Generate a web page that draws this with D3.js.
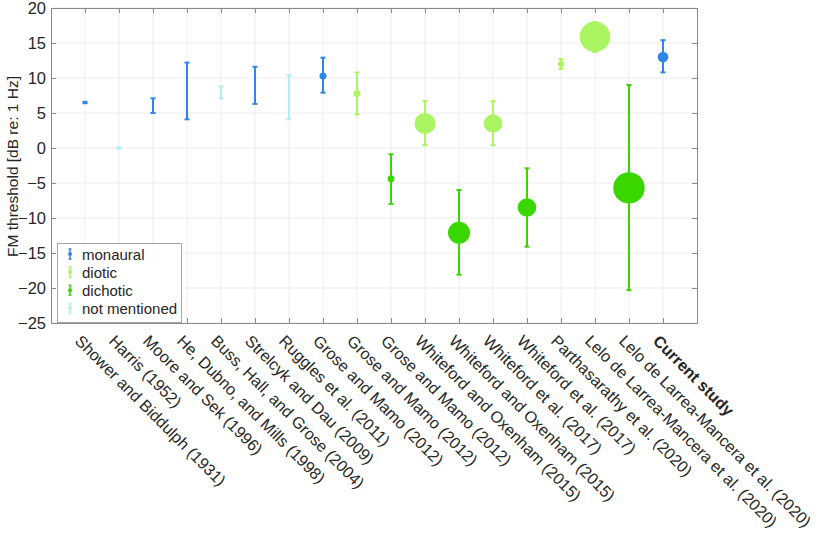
<!DOCTYPE html>
<html><head><meta charset="utf-8">
<script src="https://cdn.jsdelivr.net/npm/d3@7"></script>
<style>body{margin:0;background:#fff;font-family:"Liberation Sans",Arial,Helvetica,sans-serif;}</style>
</head><body><svg id="c" width="820" height="534"></svg>
<script>
const studies = ["Shower and Biddulph (1931)","Harris (1952)","Moore and Sek (1996)","He, Dubno, and Mills (1998)","Buss, Hall, and Grose (2004)","Strelcyk and Dau (2009)","Ruggles et al. (2011)","Grose and Mamo (2012)","Grose and Mamo (2012)","Grose and Mamo (2012)","Whiteford and Oxenham (2015)","Whiteford and Oxenham (2015)","Whiteford et al. (2017)","Whiteford et al. (2017)","Parthasarathy et al. (2020)","Lelo de Larrea-Mancera et al. (2020)","Lelo de Larrea-Mancera et al. (2020)","Current study"];
const conditions = ["monaural","not mentioned","monaural","monaural","not mentioned","monaural","not mentioned","monaural","diotic","dichotic","diotic","dichotic","diotic","dichotic","diotic","diotic","dichotic","monaural"];
const centers = [6.5,0,6.0,8.1,7.9,9.0,7.2,10.3,7.8,-4.4,3.5,-12.1,3.5,-8.5,12.0,15.9,-5.7,13.0];
const lows =    [6.4,-0.1,5.0,4.1,7.1,6.3,4.1,7.9,4.8,-8.0,0.4,-18.1,0.4,-14.1,11.3,13.7,-20.3,10.8];
const highs =   [6.6,0.1,7.1,12.2,8.8,11.6,10.4,12.9,10.8,-0.9,6.7,-6.0,6.7,-2.9,12.7,18.0,9.0,15.4];
const markerSizes = [0,0,0,0,0,0,1,3.5,3.5,3.5,10.5,11,9.3,9.3,3,15.3,15.7,5.3];
const legendLabels = ["monaural","diotic","dichotic","not mentioned"];
const yTicks = [20,15,10,5,0,-5,-10,-15,-20,-25];
const yLabel = "FM threshold [dB re: 1 Hz]";

const colors = {"monaural":"#2b87e8","diotic":"#abf562","dichotic":"#3ad600","not mentioned":"#b2eef0"};

const svg = d3.select("#c");
const L=51, R=697, T=8, B=323;
const x = d3.scaleLinear().domain([0,studies.length+1]).range([L,R]);
const y = d3.scaleLinear().domain([-25,20]).range([B,T]);
const idx = d3.range(1, studies.length+1);

// grid
svg.append("g").selectAll("line").data(idx).join("line")
  .attr("x1",d=>x(d)).attr("x2",d=>x(d)).attr("y1",T).attr("y2",B)
  .attr("stroke","#ededed").attr("stroke-width",1);
svg.append("g").selectAll("line").data(yTicks).join("line")
  .attr("x1",L).attr("x2",R).attr("y1",d=>y(d)).attr("y2",d=>y(d))
  .attr("stroke","#ededed").attr("stroke-width",1);

// axes
const ax = svg.append("g").attr("font-family",'"Liberation Sans",Arial,sans-serif');
const yAxis = d3.axisLeft(y).tickValues(yTicks).tickSize(-5).tickPadding(5);
const yg = ax.append("g").attr("transform",`translate(${L},0)`).call(yAxis);
yg.selectAll("text").attr("font-size",16.5).attr("fill","#262626");
const yAxisR = d3.axisRight(y).tickValues(yTicks).tickSize(-5).tickFormat("");
ax.append("g").attr("transform",`translate(${R},0)`).call(yAxisR);
const xAxis = d3.axisBottom(x).tickValues(idx).tickSize(-5).tickFormat("");
ax.append("g").attr("transform",`translate(0,${B})`).call(xAxis);
const xAxisT = d3.axisTop(x).tickValues(idx).tickSize(-5).tickFormat("");
ax.append("g").attr("transform",`translate(0,${T})`).call(xAxisT);
ax.selectAll(".domain").attr("stroke","#8a8a8a").attr("stroke-width",1);
ax.selectAll(".tick line").attr("stroke","#8a8a8a");

// x labels
svg.append("g").selectAll("text").data(studies).join("text")
  .attr("transform",(d,i)=>`translate(${x(i+1)-11},${B+19}) rotate(45)`)
  .attr("font-size",16.2).attr("fill","#262626")
  .attr("font-weight",d=>d==="Current study"?"bold":"normal")
  .text(d=>d);

// y label
svg.append("text").attr("transform",`translate(18,${(T+B)/2+1}) rotate(-90)`)
  .attr("text-anchor","middle").attr("font-size",15.5).attr("fill","#262626").text(yLabel);

// error bars
const eb = svg.append("g");
idx.forEach((d,k)=>{
  const c = colors[conditions[k]];
  const g = eb.append("g");
  g.append("line").attr("x1",x(d)).attr("x2",x(d)).attr("y1",y(lows[k])).attr("y2",y(highs[k]))
    .attr("stroke",c).attr("stroke-width",2);
  [lows[k],highs[k]].forEach(v=>g.append("line").attr("x1",x(d)-2.5).attr("x2",x(d)+2.5)
    .attr("y1",y(v)).attr("y2",y(v)).attr("stroke",c).attr("stroke-width",2));
  if(markerSizes[k]>0) g.append("circle").attr("cx",x(d)).attr("cy",y(centers[k])).attr("r",markerSizes[k]).attr("fill",c);
});

// legend
const lg = svg.append("g");
lg.append("rect").attr("x",57.5).attr("y",243.5).attr("width",124).attr("height",79)
  .attr("fill","#fff").attr("stroke","#a6a6a6").attr("stroke-width",1);
legendLabels.forEach((lab,i)=>{
  const yy = 254 + i*18.1;
  const c = colors[lab];
  lg.append("line").attr("x1",70).attr("x2",70).attr("y1",yy-5).attr("y2",yy+5).attr("stroke",c).attr("stroke-width",1.5);
  [yy-5,yy+5].forEach(v=>lg.append("line").attr("x1",68.5).attr("x2",71.5).attr("y1",v).attr("y2",v).attr("stroke",c).attr("stroke-width",1.5));
  lg.append("circle").attr("cx",70).attr("cy",yy).attr("r",2).attr("fill",c);
  lg.append("text").attr("x",82).attr("y",yy+5.5).attr("font-size",15).attr("fill","#262626").text(lab);
});
</script></body></html>
